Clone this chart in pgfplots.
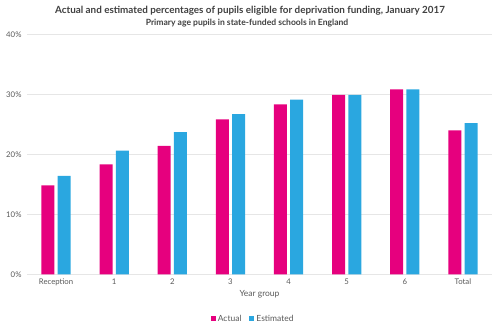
\documentclass[border=0pt]{standalone}
\usepackage{pgfplots}
\pgfplotsset{compat=1.18}
\usepackage{fontspec}
\setmainfont{Lato}
\definecolor{pinkc}{HTML}{E6007E}
\definecolor{bluec}{HTML}{2AA7E0}
\definecolor{gridc}{HTML}{E6E6E6}
\definecolor{txtc}{HTML}{595959}
\definecolor{titc}{HTML}{404040}
\begin{document}
\begin{tikzpicture}
\begin{axis}[
  at={(0,0)}, anchor=south west,
  scale only axis, width=465bp, height=240bp,
  ybar=3.3bp, bar width=13bp,
  xmin=-0.5, xmax=7.5, ymin=0, ymax=40,
  xtick={0,1,2,3,4,5,6,7},
  xticklabels={Reception,1,2,3,4,5,6,Total},
  ytick={0,10,20,30,40},
  yticklabel={\pgfmathprintnumber{\tick}\%},
  /pgf/number format/assume math mode=true,
  ymajorgrids, grid style={gridc, line width=0.8bp},
  axis line style={draw=none},
  major tick length=0pt,
  tick label style={font=\fontsize{7.8}{9}\selectfont, text=txtc},
  xticklabel style={yshift=-1bp},
  yticklabel style={xshift=-2bp},
  xlabel={Year group},
  xlabel style={font=\fontsize{8.5}{10}\selectfont, text=txtc, yshift=2bp},
  legend style={at={(0.48,-0.152)}, anchor=north, draw=none, fill=none,
    legend columns=2, font=\fontsize{8.5}{10}\selectfont, text=txtc},
  legend image code/.code={\path (-5bp,0bp); \fill[#1, draw=none] (1bp,-2.5bp) rectangle (6bp,2.5bp);},
  clip=false,
]
\addplot[fill=pinkc, draw=none] coordinates {(0,14.8) (1,18.3) (2,21.4) (3,25.8) (4,28.3) (5,29.9) (6,30.8) (7,24.0)};
\addplot[fill=bluec, draw=none] coordinates {(0,16.4) (1,20.6) (2,23.7) (3,26.7) (4,29.1) (5,29.9) (6,30.8) (7,25.2)};
\legend{Actual, Estimated}
\end{axis}
\node[font=\bfseries\fontsize{9.9}{11}\selectfont, text=titc] at (223bp, 263.3bp) {Actual and estimated percentages of pupils eligible for deprivation funding, January 2017};
\node[font=\bfseries\fontsize{8.6}{10}\selectfont, text=titc] at (220bp, 251.3bp) {Primary age pupils in state-funded schools in England};
\pgfresetboundingbox
\useasboundingbox (-27bp,-52.7bp) rectangle (473bp,274.3bp);
\end{tikzpicture}
\end{document}
